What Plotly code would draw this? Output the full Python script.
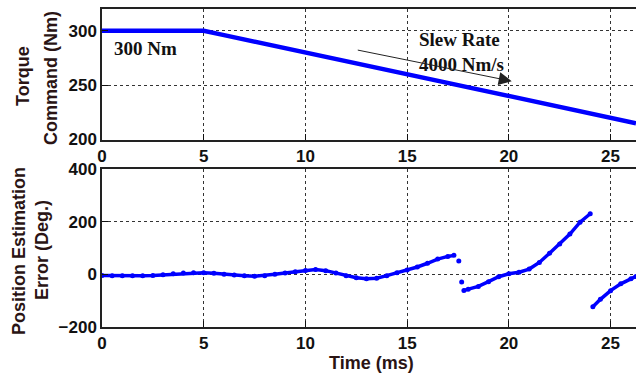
import plotly.graph_objects as go

# Torque command (Nm) sampled at 1 ms
torque_t = [0, 1, 2, 3, 4, 5, 6, 7, 8, 9, 10, 11, 12, 13, 14, 15, 16, 17, 18,
            19, 20, 21, 22, 23, 24, 25, 26, 26.25]
torque_v = [300, 300, 300, 300, 300, 300, 296, 292, 288, 284, 280, 276, 272,
            268, 264, 260, 256, 252, 248, 244, 240, 236, 232, 228, 224, 220,
            216, 215]

# Position estimation error (deg); None marks a break between segments
err_t = [0, 0.5, 1, 1.5, 2, 2.5, 3, 3.5, 4, 4.5, 5, 5.5, 6, 6.5, 7, 7.5, 8,
         8.5, 9, 9.5, 10, 10.5, 11, 11.5, 12, 12.5, 13, 13.5, 14, 14.5, 15,
         15.5, 16, 16.5, 17, 17.3, None,
         17.54, None,
         17.68, None,
         17.79, 18, 18.5, 19, 19.5, 20, 20.5, 21, 21.5, 22, 22.5, 23, 23.5,
         24.0, None,
         24.13, 24.5, 25, 25.5, 26, 26.25]
err_v = [-4, -5, -5, -5, -5, -4, -2, 2, 5, 6, 6, 4, 0, -3, -5, -7, -5,
         0, 5, 10, 15, 18, 14, 5, -5, -13, -17, -15, -5, 6, 16,
         28, 42, 58, 68, 72, None,
         51, None,
         -29, None,
         -61, -57, -46, -28, -9, 2, 8, 20, 45, 80, 115, 153, 198,
         230, None,
         -123, -95, -62, -36, -17, -8]

x_ticks = [0, 5, 10, 15, 20, 25]
torque_ticks = [200, 250, 300]
err_ticks = [-200, 0, 200, 400]

BLUE = "#0000ff"
tick_font = dict(family="Liberation Sans", size=17, color="#111111", weight="bold")
title_font = dict(family="Liberation Sans", size=18, color="#2a1414", weight="bold")
note_font = dict(family="Liberation Serif", size=19, color="#111111", weight="bold")

W, H = 636, 377
ML, MR, MT, MB = 102, 0, 9, 50
PW, PH = W - ML - MR, H - MT - MB


def px(xp):
    return (xp - ML) / PW


def py(yp):
    return (H - MB - yp) / PH


fig = go.Figure()
fig.add_trace(go.Scatter(x=torque_t, y=torque_v, mode="lines",
                         line=dict(color=BLUE, width=4.5),
                         xaxis="x", yaxis="y", showlegend=False))
fig.add_trace(go.Scatter(x=err_t, y=err_v, mode="lines+markers",
                         line=dict(color=BLUE, width=3.5),
                         marker=dict(color=BLUE, size=5, symbol="circle"),
                         connectgaps=False,
                         xaxis="x2", yaxis="y2", showlegend=False))

common_x = dict(range=[0, 26.25], tickvals=x_ticks, ticks="inside", ticklen=6,
                tickcolor="#111", showline=True, linecolor="#222", linewidth=1.5,
                mirror=True, showgrid=True, gridcolor="#333", gridwidth=1,
                griddash="3px,3px", tickfont=tick_font, zeroline=False)
common_y = dict(ticks="inside", ticklen=6, tickcolor="#111", showline=True,
                linecolor="#222", linewidth=1.5, mirror=False, showgrid=True,
                gridcolor="#333", gridwidth=1, griddash="3px,3px",
                tickfont=tick_font, zeroline=False)

top_lo = py(139.5)
bot_hi = py(169)

fig.update_layout(
    width=W, height=H,
    margin=dict(l=ML, r=MR, t=MT, b=MB),
    paper_bgcolor="white", plot_bgcolor="white",
    xaxis=dict(anchor="y", domain=[0, 1], **common_x),
    yaxis=dict(anchor="x", domain=[top_lo, 1], range=[200, 320],
               tickvals=torque_ticks, **common_y),
    xaxis2=dict(anchor="y2", domain=[0, 1], **common_x),
    yaxis2=dict(anchor="x2", domain=[0, bot_hi], range=[-200, 400],
                tickvals=err_ticks, **common_y),
)

annotations = [
    # y-axis titles, one line each
    dict(text="Torque", x=px(23), y=py(76), textangle=-90),
    dict(text="Command (Nm)", x=px(51), y=py(78), textangle=-90),
    dict(text="Position Estimation", x=px(19), y=py(251), textangle=-90),
    dict(text="Error (Deg.)", x=px(42), y=py(250), textangle=-90),
    dict(text="Time (ms)", x=px(371), y=py(363), textangle=0),
]
for a in annotations:
    fig.add_annotation(xref="paper", yref="paper", showarrow=False,
                       xanchor="center", yanchor="middle", font=title_font, **a)

fig.add_annotation(text="300 Nm", x=2.14, y=283.6, xref="x", yref="y",
                   showarrow=False, font=note_font, xanchor="center", yanchor="middle")
fig.add_annotation(text="Slew Rate<br>4000 Nm/s", x=15.5, y=280.5, xref="x", yref="y",
                   showarrow=False, font=note_font, xanchor="left", yanchor="middle",
                   align="left")
fig.add_annotation(x=20.14, y=253.6, ax=12.5, ay=282.5, xref="x", yref="y",
                   axref="x", ayref="y", text="", showarrow=True, arrowhead=2,
                   arrowsize=2.6, arrowwidth=1, arrowcolor="#222")

fig.write_html("out.html")
